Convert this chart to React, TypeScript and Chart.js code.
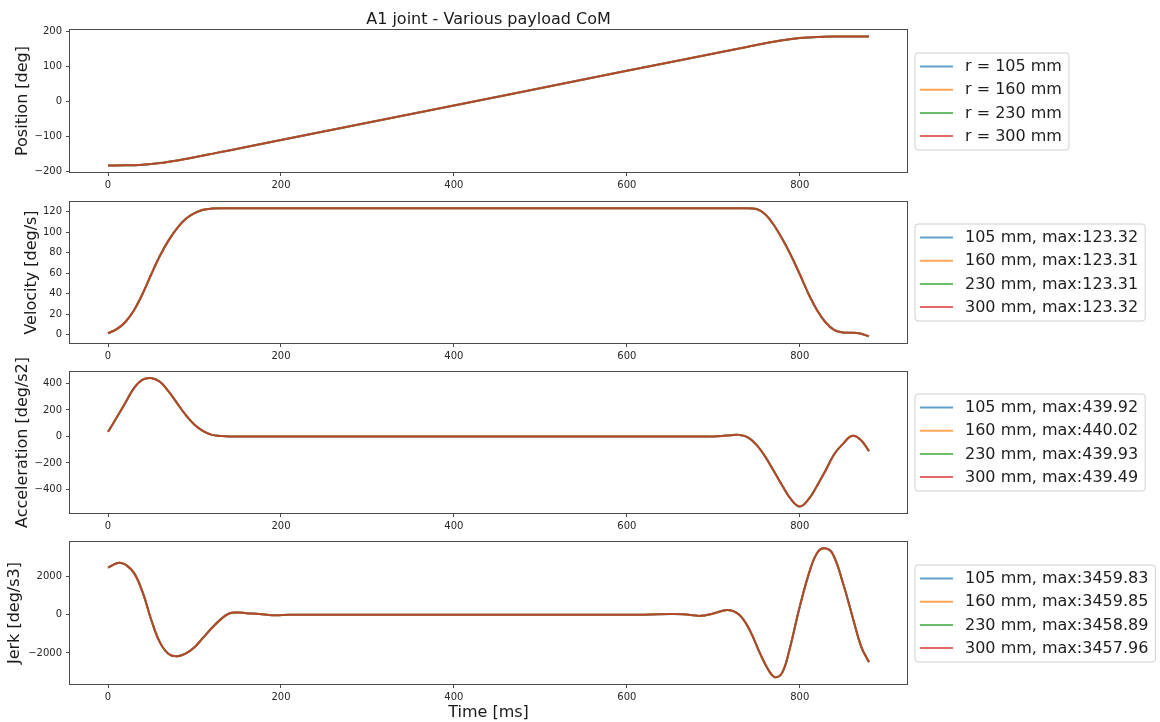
import { useEffect, useRef } from 'react';
import { Chart, registerables } from 'chart.js';

Chart.register(...registerables);

const FONT = '"DejaVu Sans", sans-serif';

// Payload centre-of-mass distances, one series each
const radii = [105, 160, 230, 300];
const seriesColors = [
  'rgba(31,119,180,0.7)',
  'rgba(255,127,14,0.7)',
  'rgba(44,160,44,0.7)',
  'rgba(214,39,40,0.7)',
];

// Shared time axis ticks [ms]
const xTicks = [0, 200, 400, 600, 800];

// Position [deg]
const posTime = [0, 20, 40, 60, 80, 100, 120, 140, 200, 400, 600, 740, 760, 780, 800, 820, 840, 860, 880];
const posDeg = [-183, -182.5, -180.5, -175.8, -168.4, -159.4, -149.7, -139.8, -110.1, -11.2, 87.7, 156.9, 166.6, 175.1, 181.3, 184.6, 185.7, 185.9, 186];
const posTicks = [-200, -100, 0, 100, 200];

// Velocity [deg/s]
const velTime = [0, 10, 20, 30, 40, 50, 60, 70, 80, 90, 100, 110, 120, 130,
  740, 750, 760, 770, 780, 790, 800, 810, 820, 830, 840, 850, 860, 870, 880];
const velDegS = [1.5, 5.5, 12.5, 24, 40, 59, 77, 92, 104, 113, 118.5, 121.8, 123.0, 123.3,
  123.3, 122.6, 117.5, 107, 93, 77, 59, 40, 24, 12, 4.5, 2.3, 2.0, 1.2, -1.5];
const velMax = [123.32, 123.31, 123.31, 123.32];
const velTicks = [0, 20, 40, 60, 80, 100, 120];

// Acceleration [deg/s2]
const accTime = [0, 10, 20, 30, 40, 50, 60, 70, 80, 90, 100, 110, 120, 130, 140,
  700, 710, 720, 730, 740, 750, 760, 770, 780, 790, 800, 810, 820, 830, 840, 850, 860, 870, 880];
const accDegS2 = [35, 143, 254, 365, 428, 440, 412, 340, 250, 160, 88, 40, 12, 4, 0,
  0, 3, 10, 12, -6, -63, -152, -261, -374, -475, -528, -475, -371, -254, -132, -56, 4, -22, -110];
const accMax = [439.92, 440.02, 439.93, 439.49];
const accTicks = [-400, -200, 0, 200, 400];

// Jerk [deg/s3]
const jerkTime = [0, 10, 15, 20, 30, 40, 50, 60, 70, 80, 90, 100, 110, 120, 130, 140, 150, 160, 175, 190, 210, 230,
  620, 650, 665, 685, 700, 717, 730, 742, 754, 765, 772, 780, 788, 800, 812, 821, 829, 838, 850, 862, 871, 880];
const jerkDegS3 = [2450, 2680, 2700, 2620, 2180, 1170, -280, -1450, -2050, -2170, -2020, -1700, -1200, -700, -260, 60, 110, 75, 35, -30, -10, 0,
  0, 30, 20, -65, 60, 245, -10, -800, -2020, -2980, -3270, -3000, -1850, 420, 2350, 3280, 3460, 3180, 1640, -280, -1670, -2480];
const jerkMax = [3459.83, 3459.85, 3458.89, 3457.96];
const jerkTicks = [-2000, 0, 2000];

// Replace the peak sample(s) with the series' stated maximum
function withPeak(values: number[], peak: number) {
  const top = Math.max(...values);
  return values.map((v) => (v === top ? peak : v));
}

function tickText(v: number) {
  return v < 0 ? '\u2212' + Math.abs(v) : String(v);
}

type Panel = {
  top: number;
  bottom: number;
  yMin: number;
  yMax: number;
  yTicks: number[];
  yTitle: string;
  yTitleCenter: number;
  title?: string;
  xTitle?: string;
  monotone: boolean;
  time: number[];
  series: number[][];
  labels: string[];
};

const maxLabel = (m: number, k: number) => `${radii[k]} mm, max:${m.toFixed(2)}`;

const panels: Panel[] = [
  {
    top: 30, bottom: 172, yMin: -201.5, yMax: 204.5, yTicks: posTicks,
    yTitle: 'Position [deg]', yTitleCenter: 23, title: 'A1 joint - Various payload CoM', monotone: true,
    time: posTime, series: radii.map(() => posDeg), labels: radii.map((r) => `r = ${r} mm`),
  },
  {
    top: 202, bottom: 343, yMin: -8, yMax: 129.4, yTicks: velTicks,
    yTitle: 'Velocity [deg/s]', yTitleCenter: 32, monotone: true,
    time: velTime, series: velMax.map((m) => withPeak(velDegS, m)), labels: velMax.map(maxLabel),
  },
  {
    top: 372, bottom: 513, yMin: -577, yMax: 486, yTicks: accTicks,
    yTitle: 'Acceleration [deg/s2]', yTitleCenter: 23, monotone: false,
    time: accTime, series: accMax.map((m) => withPeak(accDegS2, m)), labels: accMax.map(maxLabel),
  },
  {
    top: 542, bottom: 684, yMin: -3620, yMax: 3790, yTicks: jerkTicks,
    yTitle: 'Jerk [deg/s3]', yTitleCenter: 15, xTitle: 'Time [ms]', monotone: false,
    time: jerkTime, series: jerkMax.map((m) => withPeak(jerkDegS3, m)), labels: jerkMax.map(maxLabel),
  },
];

const WIDTH = 1160;
const HEIGHT = 722;
const AXES_LEFT = 70;
const AXES_RIGHT = 907;
const SPINE = '#4a4a4a';

// Full box around the plotting area
const framePlugin = {
  id: 'axesFrame',
  afterDraw(chart: any) {
    const { ctx, chartArea: a } = chart;
    ctx.save();
    ctx.strokeStyle = SPINE;
    ctx.lineWidth = 1;
    ctx.strokeRect(Math.round(a.left) - 0.5, Math.round(a.top) - 0.5,
      Math.round(a.right - a.left) + 1, Math.round(a.bottom - a.top) + 1);
    ctx.restore();
  },
};

// Legend placed outside the axes, right of the plot and vertically centred
const sideLegendPlugin = {
  id: 'sideLegend',
  afterDraw(chart: any) {
    const { ctx, chartArea: a } = chart;
    const ds = chart.data.datasets;
    ctx.save();
    ctx.font = `16px ${FONT}`;
    const textW = Math.max(...ds.map((d: any) => ctx.measureText(d.label).width));
    const left = a.right + 8;
    const width = 50 + textW + 7;
    const height = 97;
    const top = Math.round((a.top + a.bottom) / 2 - height / 2);
    const r = 3;
    ctx.beginPath();
    ctx.moveTo(left + r, top);
    ctx.lineTo(left + width - r, top);
    ctx.arcTo(left + width, top, left + width, top + r, r);
    ctx.lineTo(left + width, top + height - r);
    ctx.arcTo(left + width, top + height, left + width - r, top + height, r);
    ctx.lineTo(left + r, top + height);
    ctx.arcTo(left, top + height, left, top + height - r, r);
    ctx.lineTo(left, top + r);
    ctx.arcTo(left, top, left + r, top, r);
    ctx.closePath();
    ctx.fillStyle = 'rgba(255,255,255,0.8)';
    ctx.fill();
    ctx.strokeStyle = '#d0d0d0';
    ctx.lineWidth = 1;
    ctx.stroke();
    ds.forEach((d: any, i: number) => {
      const y = top + 13.5 + i * 23.2;
      ctx.beginPath();
      ctx.moveTo(left + 5, y);
      ctx.lineTo(left + 38, y);
      ctx.strokeStyle = d.borderColor;
      ctx.lineWidth = 2;
      ctx.stroke();
      ctx.fillStyle = '#1e1e1e';
      ctx.textBaseline = 'middle';
      ctx.textAlign = 'left';
      ctx.fillText(d.label, left + 50, y + 0.5);
    });
    ctx.restore();
  },
};

function buildConfig(p: Panel): any {
  const xAxisH = p.xTitle ? 38 : 20;
  const tickFont = { size: 10, family: FONT };
  const grid = { drawOnChartArea: false, drawTicks: true, tickLength: 4, color: SPINE, lineWidth: 1 };
  return {
    type: 'line',
    data: {
      datasets: p.series.map((vals, k) => ({
        label: p.labels[k],
        data: p.time.map((t, j) => ({ x: t, y: vals[j] })),
        borderColor: seriesColors[k],
        backgroundColor: seriesColors[k],
        borderWidth: 2,
        pointRadius: 0,
        fill: false,
        cubicInterpolationMode: p.monotone ? 'monotone' : 'default',
        tension: p.monotone ? 0 : 0.4,
        order: 3 - k,
      })),
    },
    options: {
      responsive: false,
      animation: false,
      events: [],
      layout: {
        padding: {
          left: 0,
          right: WIDTH - AXES_RIGHT,
          top: p.title ? 0 : p.top,
          bottom: HEIGHT - p.bottom - xAxisH,
        },
      },
      plugins: {
        legend: { display: false },
        tooltip: { enabled: false },
        title: p.title
          ? {
              display: true,
              text: p.title,
              fullSize: false,
              color: '#1a1a1a',
              font: { size: 16, weight: 'normal', family: FONT },
              padding: { top: 10, bottom: 0.8 },
            }
          : { display: false },
      },
      scales: {
        x: {
          type: 'linear',
          min: -44,
          max: 924,
          bounds: 'data',
          afterBuildTicks: (ax: any) => { ax.ticks = xTicks.map((value) => ({ value })); },
          afterFit: (ax: any) => { ax.height = xAxisH; },
          ticks: { font: tickFont, color: '#262626', padding: 3, maxRotation: 0, autoSkip: false,
            callback: (v: number) => tickText(v) },
          grid,
          border: { display: false },
          title: p.xTitle
            ? { display: true, text: p.xTitle, color: '#1a1a1a', font: { size: 16, family: FONT },
                padding: { top: 0, bottom: 0 } }
            : { display: false },
        },
        y: {
          type: 'linear',
          min: p.yMin,
          max: p.yMax,
          bounds: 'data',
          afterBuildTicks: (ax: any) => { ax.ticks = p.yTicks.map((value) => ({ value })); },
          afterFit: (ax: any) => { ax.width = AXES_LEFT; },
          ticks: { font: tickFont, color: '#262626', padding: 4, autoSkip: false,
            callback: (v: number) => tickText(v) },
          grid,
          border: { display: false },
          title: { display: true, text: p.yTitle, color: '#1a1a1a', font: { size: 16, family: FONT },
            padding: { top: p.yTitleCenter - 9.6, bottom: 0 } },
        },
      },
    },
    plugins: [framePlugin, sideLegendPlugin],
  };
}

export default function App() {
  const canvases = useRef<(HTMLCanvasElement | null)[]>([]);

  useEffect(() => {
    Chart.defaults.font.family = FONT;
    const charts = panels.map((p, i) => new Chart(canvases.current[i] as HTMLCanvasElement, buildConfig(p)));
    return () => charts.forEach((c) => c.destroy());
  }, []);

  return (
    <div style={{ position: 'absolute', left: 0, top: 0, width: WIDTH, height: HEIGHT, background: '#fff' }}>
      {panels.map((_, i) => (
        <canvas
          key={i}
          ref={(el) => { canvases.current[i] = el; }}
          width={WIDTH}
          height={HEIGHT}
          style={{ position: 'absolute', left: 0, top: 0 }}
        />
      ))}
    </div>
  );
}
